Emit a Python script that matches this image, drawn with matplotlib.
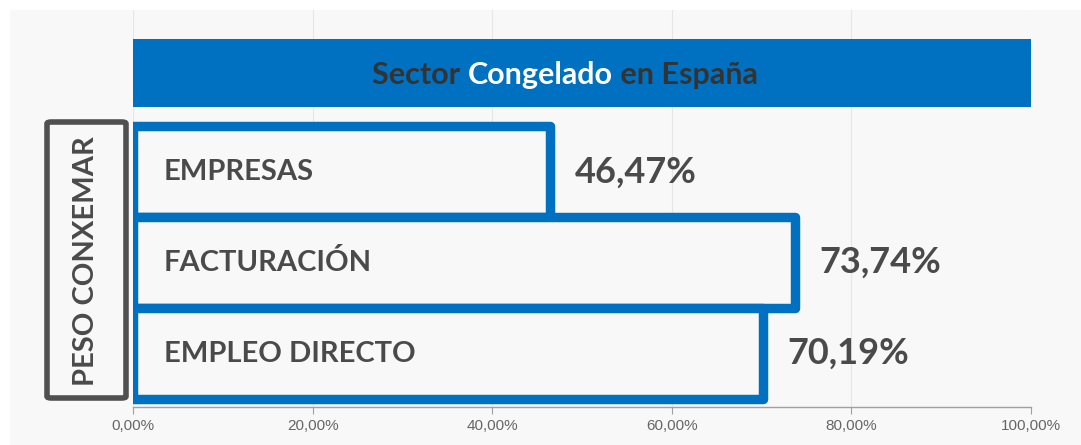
import matplotlib.pyplot as plt
from matplotlib.patches import Rectangle, FancyBboxPatch
from matplotlib.ticker import FuncFormatter

# ----- Data -----
categories = ["EMPRESAS", "FACTURACIÓN", "EMPLEO DIRECTO"]
values = [46.47, 73.74, 70.19]
ticks = [0, 20, 40, 60, 80, 100]

# ----- Colors -----
BLUE = "#0070C0"
INK = "#4a4a4a"
TITLE_INK = "#333333"
PANEL = "#f8f8f8"
GRID = "#e6e6e6"

W, H = 1081, 445
fig = plt.figure(figsize=(W / 100, H / 100), dpi=100)
fig.patch.set_facecolor("white")

# light grey panel behind everything
fig.add_artist(Rectangle((10 / W, 0), 1 - 10 / W, 1 - 10 / H,
                         transform=fig.transFigure, facecolor=PANEL,
                         edgecolor="none", zorder=0))

ax = fig.add_axes([133 / W, (H - 407) / H, 898 / W, 397 / H])
ax.set_facecolor("none")

y = list(range(len(categories)))
ax.barh(y, values, height=1.0, color=PANEL, edgecolor=BLUE,
        linewidth=6.8, joinstyle="round", zorder=3)

# title band
ax.axhspan(-1.4615, -0.714, color=BLUE, zorder=2, lw=0)

ax.set_xlim(0, 100)
ax.set_ylim(2.588, -1.78)
ax.set_xticks(ticks)
ax.xaxis.set_major_formatter(FuncFormatter(lambda v, _: f"{v:.2f}%".replace(".", ",")))
ax.set_yticks([])
ax.grid(axis="x", color=GRID, linewidth=0.8, zorder=1)
for s in ("top", "right", "left"):
    ax.spines[s].set_visible(False)
ax.spines["bottom"].set_color("#a0a0a0")
ax.spines["bottom"].set_linewidth(1.0)
ax.tick_params(axis="x", length=5, color="#a0a0a0", pad=4,
               labelsize=11, labelcolor="#666666")
for lab in ax.get_xticklabels():
    lab.set_fontfamily(["Liberation Sans Narrow", "Liberation Sans", "DejaVu Sans"])

# category labels inside bars and value labels outside
for i, (cat, v) in enumerate(zip(categories, values)):
    ax.text(3.4, i, cat, ha="left", va="center", fontsize=21,
            fontweight="bold", color=INK, family="Lato", zorder=4)
    ax.text(v + 2.7, i, f"{v:.2f}%".replace(".", ","), ha="left", va="center",
            fontsize=26, fontweight="bold", color=INK, family="Lato", zorder=4)

# title with a white middle word, centred on the band
parts = [("Sector ", TITLE_INK), ("Congelado", "white"), (" en España", TITLE_INK)]
texts = []
for s, c in parts:
    texts.append(fig.text(0, 0, s, fontsize=22, fontweight="bold", color=c,
                          family="Lato", ha="left", va="center"))
fig.canvas.draw()
r = fig.canvas.get_renderer()
widths = [t.get_window_extent(r).width for t in texts]
x0 = 565 - sum(widths) / 2
yc = 1 - 75 / H
for t, w in zip(texts, widths):
    t.set_position((x0 / W, yc))
    x0 += w

# side box "PESO CONXEMAR"
fig.add_artist(FancyBboxPatch((47 / W, (H - 398) / H), 79 / W, 276 / H,
                              boxstyle="round,pad=0,rounding_size=0.004",
                              transform=fig.transFigure, facecolor="none",
                              edgecolor="#505050", linewidth=4))
fig.text(86 / W, 1 - 261 / H, "PESO CONXEMAR", rotation=90, ha="center",
         va="center", fontsize=21, fontweight="bold", color=INK, family="Lato")

plt.savefig("out.png", dpi=100, facecolor="white")
